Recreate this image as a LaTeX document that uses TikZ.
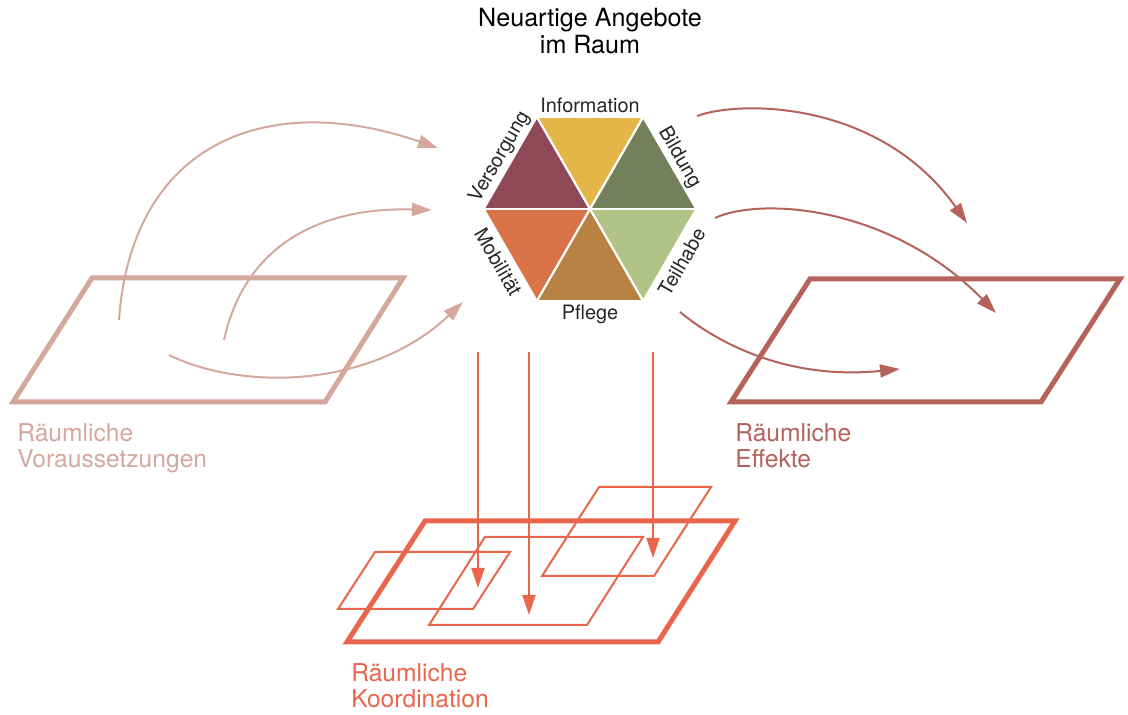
\documentclass[tikz,border=0pt]{standalone}
\usepackage{fontspec}
\setmainfont{TeX Gyre Heros}
\usetikzlibrary{arrows.meta, calc}

\definecolor{vorcol}{HTML}{D4A89C}
\definecolor{effcol}{HTML}{B4625A}
\definecolor{koocol}{HTML}{E9654B}
\definecolor{infocol}{HTML}{E3B647}
\definecolor{bildcol}{HTML}{74805C}
\definecolor{teilcol}{HTML}{B1C386}
\definecolor{pflcol}{HTML}{B88244}
\definecolor{mobcol}{HTML}{D97448}
\definecolor{versocol}{HTML}{8E4858}

\tikzset{
	flaeche/.style={line width=1mm, line join=miter},
	teilflaeche/.style={line width=0.4mm},
	pfeil/.style={line width=0.4mm, -{Triangle[length=4mm,width=2.6mm]}},
	gross/.style={font=\fontsize{14}{15.2}\selectfont, align=left, anchor=base west, inner sep=0},
	hexlabel/.style={font=\fontsize{11.3}{13}\selectfont, text=black!85, inner sep=0}
}

\begin{document}
\begin{tikzpicture}[x=0.2mm, y=0.2mm]
	\useasboundingbox (0,0) rectangle (1128,715);

	% Titel
	\node [font=\fontsize{14.3}{15.8}\selectfont, align=center, anchor=base, inner sep=0] (titel) at (590,661) {Neuartige Angebote\\im Raum};

	% Sechseck
	\coordinate (hex) at (590,506);
	\fill [infocol] (hex) -- ++(60:105) -- ++(180:105) -- cycle;
	\fill [bildcol] (hex) -- ++(0:105) -- ++(120:105) -- cycle;
	\fill [teilcol] (hex) -- ++(300:105) -- ++(60:105) -- cycle;
	\fill [pflcol] (hex) -- ++(240:105) -- ++(0:105) -- cycle;
	\fill [mobcol] (hex) -- ++(180:105) -- ++(300:105) -- cycle;
	\fill [versocol] (hex) -- ++(120:105) -- ++(240:105) -- cycle;
	\foreach \w in {0,60,120}
		\draw [white, line width=0.45mm] ($(hex)+(\w:105)$) -- ($(hex)+(\w+180:105)$);

	\node [hexlabel, anchor=base] (info) at (590,602) {Information};
	\node [hexlabel, anchor=base] (pflege) at (590,395) {Pflege};
	\node [hexlabel, rotate=60] (verso) at ($(hex)+(150:104)$) {Versorgung};
	\node [hexlabel, rotate=-60] (bildung) at ($(hex)+(30:103)$) {Bildung};
	\node [hexlabel, rotate=-60] (mobil) at ($(hex)+(210:106)$) {Mobilität};
	\node [hexlabel, rotate=60] (teilhabe) at ($(hex)+(330:106)$) {Teilhabe};

	% Flaechen
	\draw [flaeche, vorcol] (92,437) -- (403,437) -- (325,313) -- (13,313) -- cycle;
	\draw [flaeche, effcol] (810,436) -- (1120,436) -- (1041,313) -- (731,313) -- cycle;
	\draw [flaeche, koocol] (425,194) -- (735,194) -- (658,73) -- (347,73) -- cycle;
	\draw [teilflaeche, koocol] (375,163) -- (510,163) -- (473,106) -- (338,106) -- cycle;
	\draw [teilflaeche, koocol] (485,178) -- (643,178) -- (587,90) -- (429,90) -- cycle;
	\draw [teilflaeche, koocol] (599,228) -- (711,228) -- (654,139) -- (542,139) -- cycle;

	\node [gross, text=vorcol] (vor) at (17,247) {Räumliche\\Voraussetzungen};
	\node [gross, text=effcol] (eff) at (735,247) {Räumliche\\Effekte};
	\node [gross, text=koocol] (koo) at (351,7) {Räumliche\\Koordination};

	% Pfeile links
	\coordinate (v1) at (119,395);
	\coordinate (v2) at (224,375);
	\coordinate (v3) at (169,360);
	\coordinate (a1) at (438,567);
	\coordinate (a2) at (432,505);
	\coordinate (a3) at (463,413);
	\draw [pfeil, vorcol] (v1) .. controls (132,575) and (270,625) .. (a1);
	\draw [pfeil, vorcol] (v2) .. controls (245,470) and (320,508) .. (a2);
	\draw [pfeil, vorcol] (v3) .. controls (240,325) and (370,325) .. (a3);

	% Pfeile rechts
	\coordinate (b1) at (697,599);
	\coordinate (b2) at (715,497);
	\coordinate (b3) at (680,403);
	\coordinate (e1) at (967,492);
	\coordinate (e2) at (996,402);
	\coordinate (e3) at (900,346);
	\draw [pfeil, effcol] (b1) .. controls (740,615) and (880,615) .. (e1);
	\draw [pfeil, effcol] (b2) .. controls (760,518) and (890,510) .. (e2);
	\draw [pfeil, effcol] (b3) .. controls (720,370) and (790,335) .. (e3);

	% Pfeile nach unten
	\foreach \x/\y in {478/127, 529/100, 653/157}
		\draw [pfeil, koocol] (\x,363) -- (\x,\y);
\end{tikzpicture}
\end{document}
